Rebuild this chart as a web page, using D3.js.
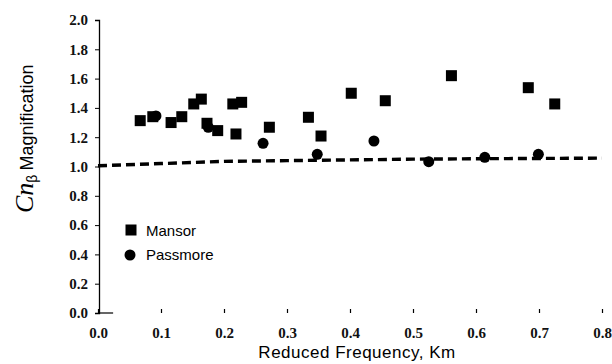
<!DOCTYPE html>
<html><head><meta charset="utf-8">
<script src="https://cdn.jsdelivr.net/npm/d3@7"></script>
<style>body{margin:0;background:#fff}</style>
</head><body>
<svg id="c" width="612" height="364"></svg>
<script>
const mansorX = [0.067,0.087,0.116,0.133,0.152,0.164,0.173,0.190,0.214,0.228,0.219,0.272,0.334,0.354,0.402,0.456,0.561,0.683,0.725];
const mansorY = [1.313,1.34,1.30,1.34,1.427,1.46,1.295,1.245,1.427,1.438,1.222,1.268,1.336,1.208,1.50,1.449,1.62,1.538,1.427];
const passX = [0.092,0.175,0.262,0.348,0.438,0.525,0.614,0.699];
const passY = [1.345,1.268,1.158,1.083,1.174,1.033,1.063,1.083];
const lineX = [0.0,0.1,0.2,0.3,0.4,0.5,0.6,0.7,0.8];
const lineY = [1.005,1.02,1.035,1.04,1.045,1.05,1.053,1.055,1.057];
const xTicks = [0.0,0.1,0.2,0.3,0.4,0.5,0.6,0.7,0.8];
const yTicks = [0.0,0.2,0.4,0.6,0.8,1.0,1.2,1.4,1.6,1.8,2.0];

const svg = d3.select("#c");
const x = d3.scaleLinear().domain([0,0.8]).range([98,602]);
const y = d3.scaleLinear().domain([0,2]).range([313,20]);
const serif = "'Liberation Serif','Times New Roman',serif";
const sans = "'Liberation Sans',Arial,sans-serif";

// y axis
const ya = svg.append("g").attr("transform","translate(99,0)")
  .call(d3.axisLeft(y).tickValues(yTicks).tickFormat(d3.format(".1f")).tickSize(4).tickPadding(7));
ya.select(".domain").attr("stroke","#000").attr("stroke-width",1.3);
ya.selectAll("text").attr("font-family",serif).attr("font-size",15).attr("font-weight","bold").attr("fill","#111");

// x axis (domain line faded in reference)
const xa = svg.append("g").attr("transform","translate(0,313)")
  .call(d3.axisBottom(x).tickValues(xTicks).tickFormat(d3.format(".1f")).tickSize(-4).tickPadding(14));
xa.select(".domain").remove();
xa.selectAll(".tick line").attr("stroke","#000").attr("stroke-width",1.2);
xa.selectAll("text").attr("font-family",serif).attr("font-size",15).attr("font-weight","bold").attr("fill","#111");
svg.append("line").attr("x1",x(0)).attr("x2",x(0.024)).attr("y1",y(0)).attr("y2",y(0)).attr("stroke","#000").attr("stroke-width",1.2);

// dashed line
svg.append("path")
  .attr("d", d3.line().x((d,i)=>x(lineX[i])).y((d,i)=>y(lineY[i]))(lineX))
  .attr("fill","none").attr("stroke","#000").attr("stroke-width",3.4).attr("stroke-dasharray","9,5");

// Passmore circles
svg.append("g").selectAll("circle").data(passX).join("circle")
  .attr("cx",(d)=>x(d)).attr("cy",(d,i)=>y(passY[i])).attr("r",5.5).attr("fill","#000");
// Mansor squares
const s = 11;
svg.append("g").selectAll("rect").data(mansorX).join("rect")
  .attr("x",(d)=>x(d)-s/2).attr("y",(d,i)=>y(mansorY[i])-s/2).attr("width",s).attr("height",s).attr("fill","#000");

// legend
svg.append("rect").attr("x",131-5.5).attr("y",230-5.5).attr("width",11).attr("height",11).attr("fill","#000");
svg.append("text").attr("x",146).attr("y",236).attr("font-family",sans).attr("font-size",15).text("Mansor");
svg.append("circle").attr("cx",130).attr("cy",255).attr("r",5.5).attr("fill","#000");
svg.append("text").attr("x",146).attr("y",260).attr("font-family",sans).attr("font-size",15).text("Passmore");

// axis titles
svg.append("text").attr("x",357).attr("y",358).attr("text-anchor","middle")
  .attr("font-family",sans).attr("font-size",17).attr("letter-spacing",0.5).text("Reduced Frequency, Km");
const yl = svg.append("text").attr("transform","translate(33,213) rotate(-90)").attr("text-anchor","start");
yl.append("tspan").attr("font-family",serif).attr("font-style","italic").attr("font-size",26).text("Cn");
yl.append("tspan").attr("font-family",sans).attr("font-size",14).attr("dy",4).text("β");
yl.append("tspan").attr("font-family",sans).attr("font-size",18).attr("dy",-4).attr("dx",4).text("Magnification");
</script>
</body></html>
